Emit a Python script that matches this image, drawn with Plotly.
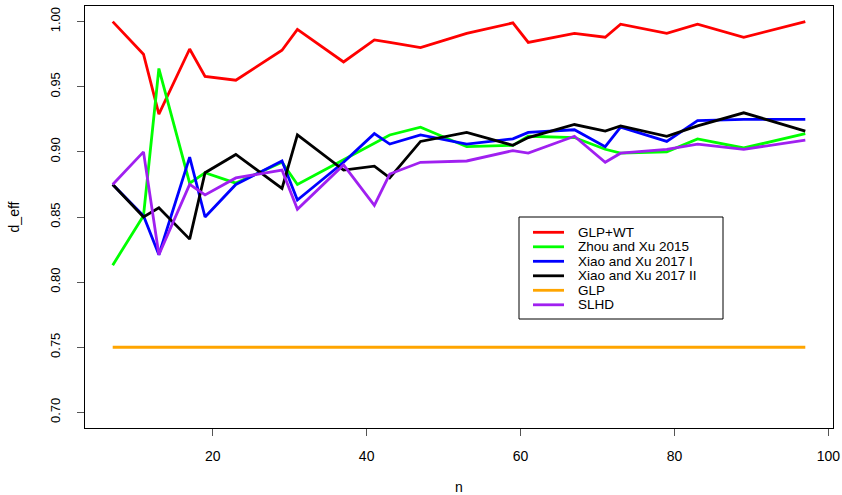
import plotly.graph_objects as go

n = [7, 11, 13, 17, 19, 23, 29, 31, 37, 41, 43, 47, 53, 59, 61, 67, 71, 73, 79, 83, 89, 97]

glp_wt = [1.000, 0.975, 0.929, 0.979, 0.958, 0.955, 0.978, 0.994, 0.969, 0.986, 0.984, 0.980,
          0.991, 0.999, 0.984, 0.991, 0.988, 0.998, 0.991, 0.998, 0.988, 1.000]
zhou_xu_2015 = [0.813, 0.851, 0.964, 0.876, 0.884, 0.876, 0.892, 0.875, 0.894, 0.907, 0.913, 0.919,
                0.904, 0.905, 0.912, 0.911, 0.902, 0.899, 0.900, 0.910, 0.903, 0.914]
xiao_xu_2017_I = [0.875, 0.851, 0.821, 0.896, 0.850, 0.875, 0.893, 0.863, 0.892, 0.914, 0.906, 0.913,
                  0.906, 0.910, 0.915, 0.917, 0.904, 0.919, 0.908, 0.924, 0.925, 0.925]
xiao_xu_2017_II = [0.875, 0.850, 0.857, 0.833, 0.884, 0.898, 0.872, 0.913, 0.886, 0.889, 0.880, 0.908,
                   0.915, 0.905, 0.911, 0.921, 0.916, 0.920, 0.912, 0.920, 0.930, 0.916]
glp = [0.750] * len(n)
slhd = [0.875, 0.900, 0.821, 0.875, 0.867, 0.880, 0.886, 0.856, 0.890, 0.859, 0.883, 0.892,
        0.893, 0.901, 0.899, 0.912, 0.892, 0.899, 0.902, 0.906, 0.902, 0.909]

series_names = ["GLP+WT", "Zhou and Xu 2015", "Xiao and Xu 2017 I", "Xiao and Xu 2017 II", "GLP", "SLHD"]
series_values = [glp_wt, zhou_xu_2015, xiao_xu_2017_I, xiao_xu_2017_II, glp, slhd]
series_colors = ["#FF0000", "#00FF00", "#0000FF", "#000000", "#FFA500", "#A020F0"]

y_ticks = [0.70, 0.75, 0.80, 0.85, 0.90, 0.95, 1.00]
x_ticks = [20, 40, 60, 80, 100]

W, H = 842, 495
L, R, T, B = 85, 9, 6, 67
PW, PH = W - L - R, H - T - B

FONT = "Liberation Sans, Arial, Helvetica, sans-serif"

fig = go.Figure()
for i in range(len(series_names)):
    fig.add_trace(go.Scatter(x=n, y=series_values[i], mode="lines", name=series_names[i],
                             line=dict(color=series_colors[i], width=2.8), showlegend=False))


def px_x(p):
    return (p - L) / PW


def px_y(p):
    return (H - B - p) / PH


# legend box (layout decoration)
shapes = [dict(type="rect", xref="paper", yref="paper",
               x0=px_x(519), x1=px_x(723), y0=px_y(319), y1=px_y(217),
               line=dict(color="black", width=1), fillcolor="white", layer="above")]
annotations = []
for k, (name, col) in enumerate(zip(series_names, series_colors)):
    yy = 232.3 + 14.5 * k
    shapes.append(dict(type="line", xref="paper", yref="paper",
                       x0=px_x(533), x1=px_x(564), y0=px_y(yy), y1=px_y(yy),
                       line=dict(color=col, width=2.8), layer="above"))
    annotations.append(dict(xref="paper", yref="paper", x=px_x(577), y=px_y(yy),
                            text=name, showarrow=False, xanchor="left", yanchor="middle",
                            borderpad=0,
                            font=dict(family=FONT, size=13.5, color="black")))

fig.update_layout(
    width=W, height=H,
    margin=dict(l=L, r=R, t=T, b=B, pad=0, autoexpand=False),
    paper_bgcolor="white", plot_bgcolor="white",
    font=dict(family=FONT, size=13, color="black"),
    shapes=shapes, annotations=annotations,
    showlegend=False,
)
fig.update_xaxes(range=[3.4, 100.6], tickvals=x_ticks, ticktext=[str(v) for v in x_ticks],
                 showgrid=False, zeroline=False, showline=True, mirror=True, linecolor="black",
                 linewidth=1, ticks="outside", ticklen=7, tickcolor="#555555",
                 tickfont=dict(size=14), ticklabelstandoff=8, automargin=False,
                 title=dict(text="n", font=dict(size=14), standoff=22))
fig.update_yaxes(range=[0.688, 1.012], tickvals=y_ticks, ticktext=[f"{v:.2f}" for v in y_ticks],
                 showgrid=False, zeroline=False, showline=True, mirror=True, linecolor="black",
                 linewidth=1, ticks="outside", ticklen=7, tickcolor="#555555", tickangle=-90,
                 tickfont=dict(size=13), ticklabelstandoff=12, automargin=False,
                 title=dict(text="d_eff", font=dict(size=14), standoff=24))

fig.write_html("out.html")
